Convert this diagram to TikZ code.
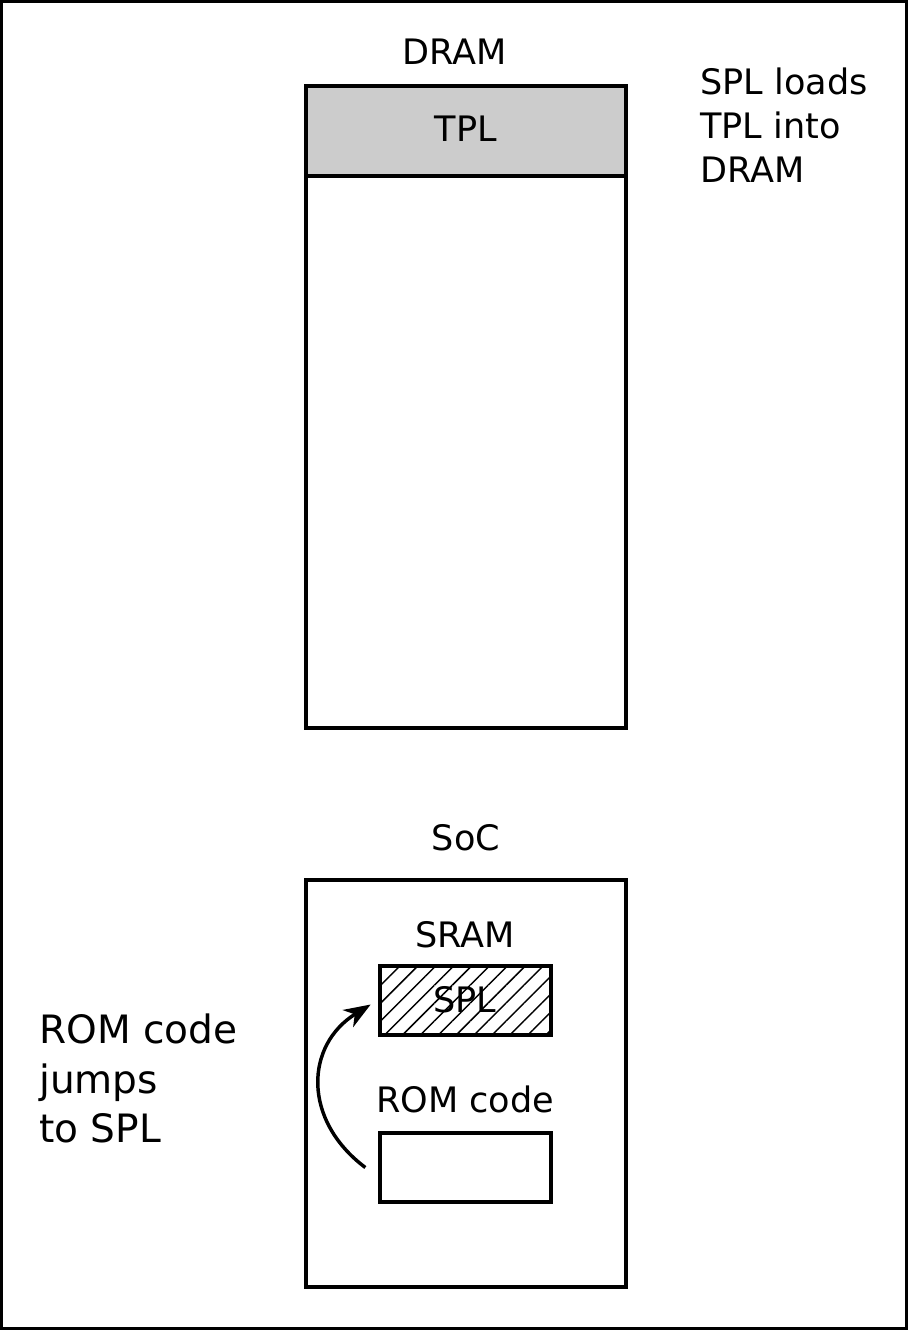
\documentclass[tikz,border=0pt]{standalone}
\usepackage{fontspec}
\setmainfont{DejaVu Sans}
\usetikzlibrary{arrows.meta,patterns.meta}
\definecolor{tplgray}{RGB}{204,204,204}
\tikzset{
  box/.style={draw=black, line width=2.6pt, inner sep=0pt, outer sep=0pt},
  lbl/.style={font=\fontsize{26.3}{34}\selectfont, inner sep=0pt, anchor=base},
  bignote/.style={font=\fontsize{29.3}{37}\selectfont, inner sep=0pt, anchor=base west},
  jumparrow/.style={line width=2.6pt, -{Stealth[length=20pt,width=15pt,inset=6pt]}},
}
\begin{document}
\begin{tikzpicture}[x=0.75pt,y=-0.75pt]
\useasboundingbox (0,0) rectangle (908,1330);
\draw[line width=2.6pt] (1.7,1.7) rectangle (906.3,1328.3);
% DRAM
\node[box, minimum width=240pt, minimum height=481.5pt] (dram) at (466,407) {};
\node[box, fill=tplgray, minimum width=240pt, minimum height=67.5pt] (tpl) at (466,131) {};
\node[lbl] (tpltxt) at (466,142) {TPL};
\node[lbl] (dramtxt) at (455,65) {DRAM};
\node[lbl, anchor=base west] (n1) at (700,95) {SPL loads};
\node[lbl, anchor=base west] (n2) at (700,139) {TPL into};
\node[lbl, anchor=base west] (n3) at (700,183) {DRAM};
% SoC
\node[box, minimum width=240pt, minimum height=305.25pt] (soc) at (466,1083.5) {};
\node[lbl] (soctxt) at (466,850) {SoC};
\node[lbl] (sramtxt) at (465,947) {SRAM};
\node[box, pattern={Lines[angle=45,distance=9.5pt,line width=1.1pt]}, minimum width=128.25pt, minimum height=51.75pt] (spl) at (465.5,1000.5) {};
\node[lbl] (spltxt) at (465,1012) {SPL};
\node[lbl] (romtxt) at (465,1112) {ROM code};
\node[box, minimum width=128.25pt, minimum height=51.75pt] (rom) at (465.5,1167.5) {};
\node[bignote] (m1) at (39,1043) {ROM code};
\node[bignote] (m2) at (39,1093) {jumps};
\node[bignote] (m3) at (39,1142) {to SPL};
% arrow
\draw[jumparrow]
  ([xshift=-11pt,yshift=0pt]rom.west) .. controls (302,1120) and (305,1045) .. ([xshift=-7pt,yshift=-3pt]spl.west);
\end{tikzpicture}
\end{document}
